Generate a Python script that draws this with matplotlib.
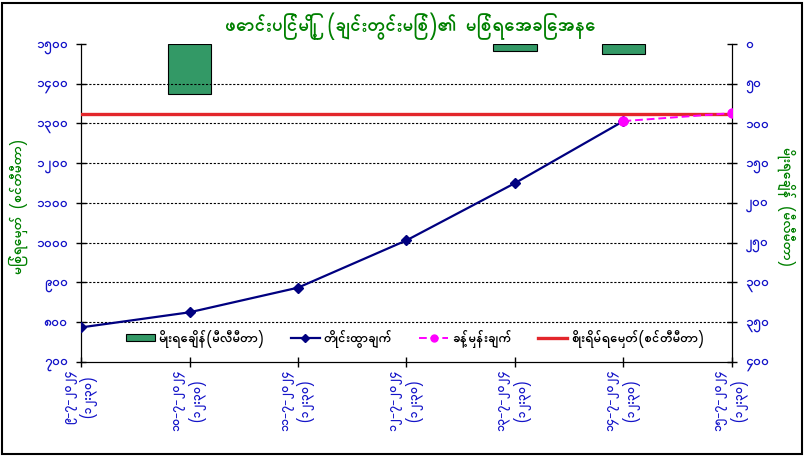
import matplotlib
matplotlib.use("Agg")
import matplotlib.pyplot as plt
from matplotlib.patches import Rectangle
from matplotlib.lines import Line2D
import numpy as np

MM_DIGITS = str.maketrans("0123456789", "၀၁၂၃၄၅၆၇၈၉")


def mm(n):
    return str(n).translate(MM_DIGITS)


# data
dates = ["၉-၇-၂၀၂၄", "၁၀-၇-၂၀၂၄", "၁၁-၇-၂၀၂၄", "၁၂-၇-၂၀၂၄",
         "၁၃-၇-၂၀၂၄", "၁၄-၇-၂၀၂၄", "၁၅-၇-၂၀၂၄"]
times = ["(၁၂:၃၀)"] * 7
rain_mm = [0, 63, 0, 0, 9, 12, 0]
observed = [787, 825, 887, 1006, 1150, 1306, np.nan]
forecast = [np.nan, np.nan, np.nan, np.nan, np.nan, 1306, 1326]
danger = 1325
level_ticks = [700, 800, 900, 1000, 1100, 1200, 1300, 1400, 1500]
rain_ticks = [0, 50, 100, 150, 200, 250, 300, 350, 400]

title = "ဖောင်းပြင်မြို့ (ချင်းတွင်းမြစ်)၏ မြစ်ရေအခြေအနေ"
left_label = "မြစ်ရေမှတ် (စင်တီမီတာ)"
right_label = "မိုးရေချိန် (မီလီမီတာ)"
leg_rain = "မိုးရေချိန်(မီလီမီတာ)"
leg_obs = "တိုင်းထွာချက်"
leg_fc = "ခန့်မှန်းချက်"
leg_danger = "စိုးရိမ်ရေမှတ်(စင်တီမီတာ)"

plt.rcParams["font.family"] = ["Padauk", "DejaVu Sans"]
plt.rcParams["font.weight"] = "bold"

GREEN = "#008000"
BLUE = "#1414C8"

fig = plt.figure(figsize=(8.07, 4.58), dpi=100)
fig.patches.append(Rectangle((0.003, 0.009), 0.991, 0.984, transform=fig.transFigure,
                             fill=False, edgecolor="black", linewidth=1.5))

ax = fig.add_axes([0.1004, 0.2096, 0.8066, 0.6944])
ax2 = ax.twinx()
ax.set_zorder(ax2.get_zorder() + 1)
ax.patch.set_visible(False)
ax2.patch.set_facecolor("#CCFFFF")

x = np.arange(len(dates))

# rain bars on the inverted right axis (days with no rain draw nothing)
rain = np.array(rain_mm, dtype=float)
wet = rain > 0
ax2.bar(x[wet], rain[wet], width=0.4, color="#339966", edgecolor="black", linewidth=0.8)
ax2.set_ylim(400, 0)
ax2.set_yticks(rain_ticks)
ax2.set_yticklabels([mm(t) for t in rain_ticks])

# dashed gridlines between the top and bottom of the plot
for t in level_ticks[1:-1]:
    ax.axhline(t, color="black", linestyle=(0, (2, 1.5)), linewidth=0.8, zorder=1)

# water level lines
ax.axhline(danger, color="#E3262B", linewidth=2.4, zorder=3)
ax.plot(x, observed, color="#000080", linewidth=1.6, marker="D", markersize=5, zorder=4)
ax.plot(x, forecast, color="#FF00FF", linewidth=1.4, linestyle=(0, (4, 2)),
        marker="o", markersize=6.5, zorder=5)

ax.set_ylim(700, 1500)
ax.set_yticks(level_ticks)
ax.set_yticklabels([mm(t) for t in level_ticks])
ax.set_xlim(0, len(dates) - 1)
ax.set_xticks(x)
ax.set_xticklabels([d + "\n" + t for d, t in zip(dates, times)], rotation=90,
                   multialignment="center", va="top", ha="center")

for a in (ax, ax2):
    a.tick_params(direction="inout", length=7, width=1, labelsize=10, labelcolor=BLUE)
    for s in a.spines.values():
        s.set_color("black")
    a.spines["top"].set_visible(False)
ax.tick_params(axis="x", pad=2, labelsize=9)
ax2.tick_params(axis="y", pad=6)
ax.tick_params(axis="y", pad=6)

fig.text(0.508, 0.943, title, ha="center", va="center", fontsize=13.5,
         color=GREEN, fontweight="bold")
fig.text(0.023, 0.55, left_label, ha="center", va="center", rotation=90,
         fontsize=10, color=GREEN, fontweight="bold")
fig.text(0.974, 0.55, right_label, ha="center", va="center", rotation=270,
         fontsize=10, color=GREEN, fontweight="bold")

handles = [
    Rectangle((0, 0), 1, 1, facecolor="#339966", edgecolor="black", linewidth=0.8),
    Line2D([], [], color="#000080", linewidth=1.6, marker="D", markersize=4),
    Line2D([], [], color="#FF00FF", linewidth=1.4, linestyle=(0, (4, 2)), marker="o", markersize=5),
    Line2D([], [], color="#E3262B", linewidth=2.4),
]
ax.legend(handles, [leg_rain, leg_obs, leg_fc, leg_danger], ncol=4, frameon=False,
          loc="center", bbox_to_anchor=(0.513, 0.072), fontsize=9.5,
          handlelength=2.2, handleheight=0.5, handletextpad=0.3, columnspacing=2.0)

fig.savefig("out.png", dpi=100)
